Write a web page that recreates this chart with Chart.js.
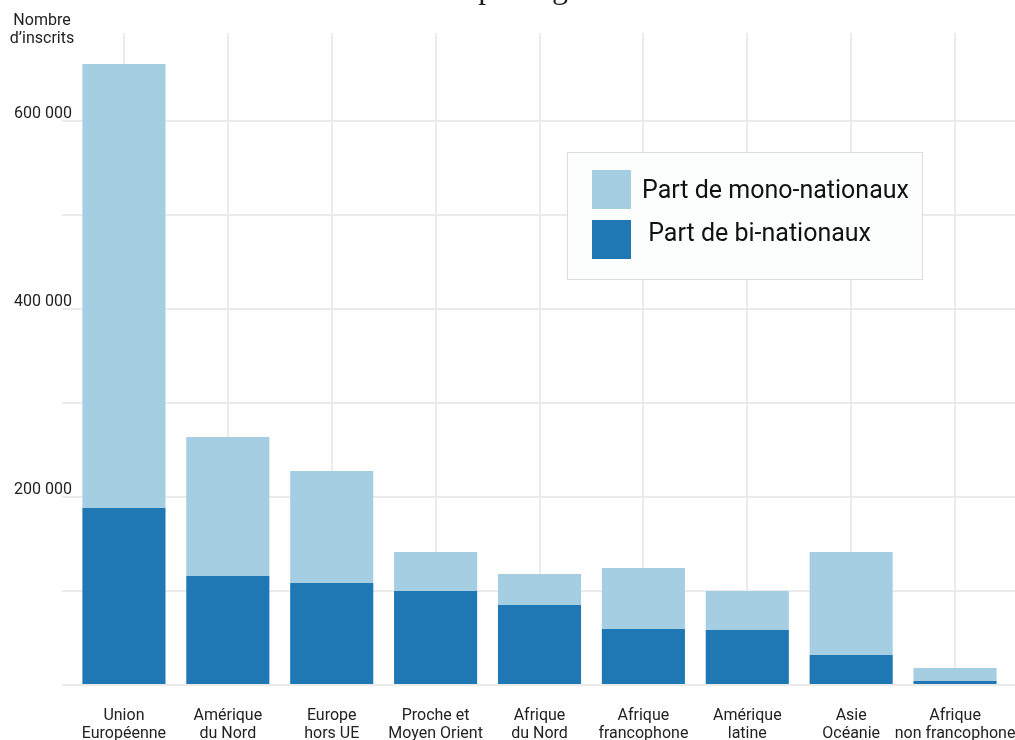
<!DOCTYPE html>
<html lang="fr">
<head>
<meta charset="utf-8">
<title>Inscrits par région</title>
<script src="https://cdn.jsdelivr.net/npm/chart.js@4.4.1/dist/chart.umd.min.js"></script>
<style>
  html, body { margin: 0; padding: 0; background: #fff; overflow: hidden; }
  #wrap { position: relative; width: 1015px; height: 740px; }
</style>
</head>
<body>
<div id="wrap"><canvas id="chart"></canvas></div>
<script>
// ── Data ───────────────────────────────────────────────
const CATEGORIES = [
  ['Union', 'Européenne'],
  ['Amérique', 'du Nord'],
  ['Europe', 'hors UE'],
  ['Proche et', 'Moyen Orient'],
  ['Afrique', 'du Nord'],
  ['Afrique', 'francophone'],
  ['Amérique', 'latine'],
  ['Asie', 'Océanie'],
  ['Afrique', 'non francophone']
];
const BI_NATIONAUX   = [188300, 116000, 108500, 100000, 85100, 59600, 58500, 31900, 4300];
const MONO_NATIONAUX = [472300, 147800, 119200, 41500, 33000, 64900, 41500, 109600, 13800];

// gridlines every 100 000, labels every 200 000
const Y_TICKS  = [0, 100000, 200000, 300000, 400000, 500000, 600000];
const Y_LABELS = [200000, 400000, 600000];
const Y_MAX    = 693600;

const LABEL_MONO = 'Part de mono-nationaux';
const LABEL_BI   = ' Part de bi-nationaux';
const Y_TITLE    = ['Nombre', 'd’inscrits'];
const TITLE      = 'Inscrits par région';

const COLOR_MONO = '#a6cee3';
const COLOR_BI   = '#1f78b4';
const GRID       = '#ebebeb';
const TEXT       = '#222';
const FONT       = 'Roboto';

// ── Helpers ────────────────────────────────────────────
const fmt = v => String(v).replace(/\B(?=(\d{3})+(?!\d))/g, ' ');

// ── Extra drawing: title, y title, gridline ends, legend ─
const decorations = {
  id: 'decorations',
  beforeDatasetsDraw(chart) {
    const { ctx, chartArea, scales } = chart;
    ctx.save();
    ctx.strokeStyle = GRID;
    ctx.lineWidth = 2;
    scales.y.ticks.forEach(t => {
      const y = Math.round(scales.y.getPixelForValue(t.value));
      ctx.beginPath();
      ctx.moveTo(chartArea.right, y);
      ctx.lineTo(chart.width, y);
      ctx.stroke();
    });
    ctx.restore();
  },
  afterDraw(chart) {
    const { ctx } = chart;
    ctx.save();

    // title, mostly above the frame
    ctx.fillStyle = TEXT;
    ctx.font = '32px "Liberation Serif", serif';
    ctx.textAlign = 'left';
    ctx.textBaseline = 'alphabetic';
    ctx.fillText(TITLE, 376, -2);

    // y axis title
    ctx.font = `16px ${FONT}`;
    ctx.textAlign = 'center';
    ctx.textBaseline = 'middle';
    ctx.fillText(Y_TITLE[0], 42, 21);
    ctx.fillText(Y_TITLE[1], 42, 39);

    // legend
    const bx = 567, by = 152, bw = 355, bh = 127;
    ctx.fillStyle = '#fcfdfd';
    ctx.fillRect(bx, by, bw, bh);
    ctx.strokeStyle = '#dcdcdc';
    ctx.lineWidth = 1;
    ctx.strokeRect(bx + 0.5, by + 0.5, bw, bh);

    const items = [
      { ds: chart.data.datasets[1], sy: 170, tx: 642, ty: 192 },
      { ds: chart.data.datasets[0], sy: 220, tx: 642, ty: 235 }
    ];
    ctx.font = `25px ${FONT}`;
    ctx.textAlign = 'left';
    items.forEach(it => {
      ctx.fillStyle = it.ds.backgroundColor;
      ctx.fillRect(592, it.sy, 39, 39);
      ctx.fillStyle = '#111';
      ctx.fillText(it.ds.label, it.tx, it.ty);
    });
    ctx.restore();
  }
};

// ── Chart ──────────────────────────────────────────────
new Chart(document.getElementById('chart'), {
  type: 'bar',
  data: {
    labels: CATEGORIES,
    datasets: [
      { label: LABEL_BI,   data: BI_NATIONAUX,   backgroundColor: COLOR_BI },
      { label: LABEL_MONO, data: MONO_NATIONAUX, backgroundColor: COLOR_MONO }
    ]
  },
  options: {
    responsive: true,
    maintainAspectRatio: false,
    animation: false,
    layout: { padding: { top: 33, right: 8, left: 0, bottom: 0 } },
    datasets: { bar: { barPercentage: 0.8, categoryPercentage: 1 } },
    plugins: {
      legend: { display: false },
      tooltip: { enabled: false }
    },
    scales: {
      x: {
        stacked: true,
        border: { display: false },
        grid: { offset: false, color: GRID, lineWidth: 2, drawTicks: false },
        ticks: {
          color: TEXT,
          font: { family: FONT, size: 16, lineHeight: 1.13 },
          padding: 22,
          autoSkip: false,
          maxRotation: 0,
          minRotation: 0
        },
        afterFit: s => { s.height = 55; s.paddingLeft = 0; s.paddingRight = 0; }
      },
      y: {
        stacked: true,
        min: 0,
        max: Y_MAX,
        border: { display: false },
        grid: { color: GRID, lineWidth: 2, tickLength: 10 },
        afterBuildTicks: s => { s.ticks = Y_TICKS.map(v => ({ value: v })); },
        ticks: {
          color: TEXT,
          font: { family: FONT, size: 16 },
          padding: -10,
          labelOffset: -7,
          callback: v => Y_LABELS.includes(v) ? fmt(v) : ''
        },
        afterFit: s => { s.width = 72; s.paddingTop = 0; s.paddingBottom = 0; }
      }
    }
  },
  plugins: [decorations]
});
</script>
</body>
</html>
